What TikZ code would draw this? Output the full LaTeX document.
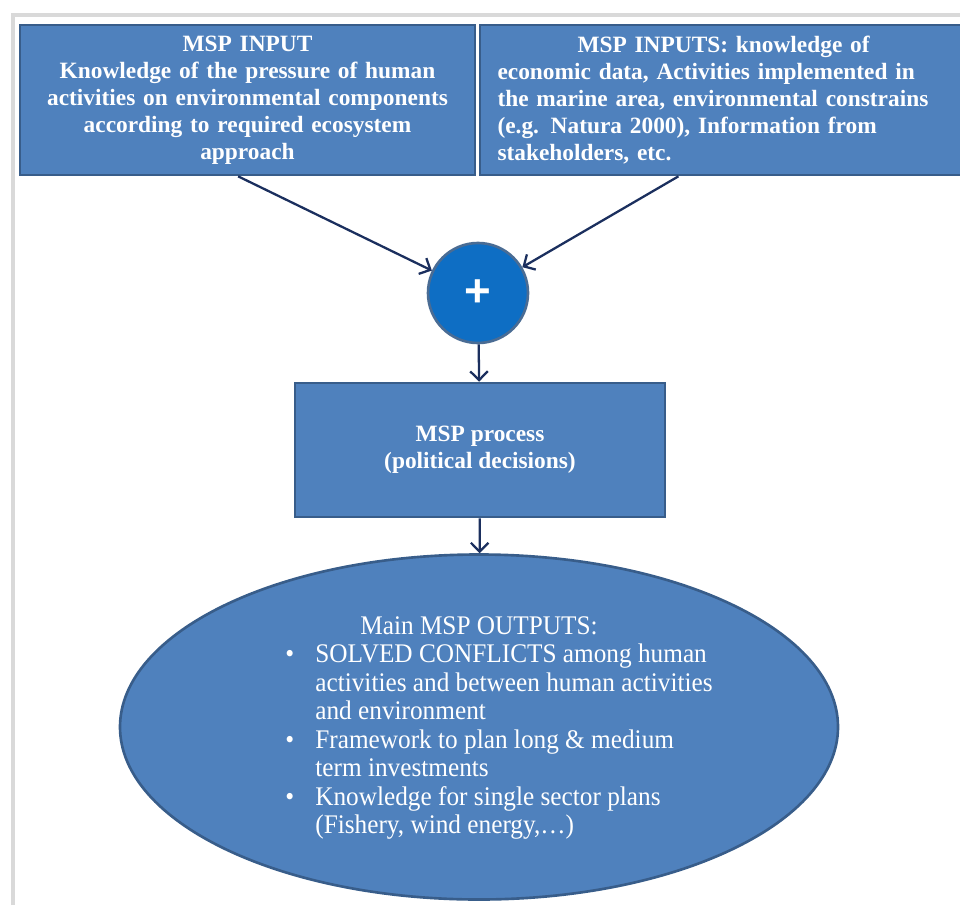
\documentclass[tikz,border=0pt]{standalone}
\usepackage{fontspec}
\setmainfont{Liberation Serif}
\setsansfont{Liberation Sans}
\newfontfamily\narrowserif[FakeStretch=0.94]{Liberation Serif}
\usetikzlibrary{arrows.meta,shapes.geometric,positioning}

\definecolor{boxblue}{HTML}{4F81BD}
\definecolor{boxedge}{HTML}{385D8A}
\definecolor{plusblue}{HTML}{0E6EC4}
\definecolor{plusedge}{HTML}{4A6C94}
\definecolor{arrowblue}{HTML}{1B2F5E}

\newcommand{\itm}{\makebox[0.6cm][l]{\textbullet}}
\newcommand{\cont}{\hspace*{0.6cm}}

\begin{document}
\begin{tikzpicture}[inbox/.style={rectangle, draw=boxedge, fill=boxblue, line width=1.5pt, text=white, inner sep=0pt, font=\bfseries\fontsize{13.3}{15.4}\selectfont}, plusnode/.style={circle, draw=plusedge, fill=plusblue, line width=1.5pt, minimum size=2cm, inner sep=0pt, text=white, font=\sffamily\bfseries\fontsize{26}{26}\selectfont}, outbox/.style={ellipse, draw=boxedge, fill=boxblue, line width=1.5pt, minimum width=14.36cm, minimum height=6.9cm}, link/.style={draw=arrowblue, line width=1.3pt, -{Straight Barb[length=5pt,width=10pt]}}]
            \useasboundingbox (0,0) rectangle (19.2,-18.1);
            % Page edge
            \draw[gray!30, line width=2pt] (0.26,-18.1) |- (19.2,-0.3);
            % Nodes
            \node[inbox, minimum width=9.1cm, minimum height=3cm, text width=9cm, align=center] (leftin) at (4.95,-2.0) {MSP INPUT\\Knowledge of the pressure of human\\activities on environmental components\\according to required ecosystem\\approach};
            \node[inbox, minimum width=9.7cm, minimum height=3cm, text width=9cm, align=left] (rightin) at (14.45,-2.0) {\hspace*{1.6cm}MSP INPUTS: knowledge of\\economic data, Activities implemented in\\the marine area, environmental constrains\\(e.g. Natura 2000), Information from\\stakeholders, etc.};
            \node[plusnode] (plus) at (9.56,-5.86) {+};
            \node[inbox, minimum width=7.4cm, minimum height=2.68cm, align=center] (process) at (9.6,-9.0) {MSP process\\(political decisions)};
            \node[outbox] (outputs) at (9.58,-14.54) {};
            \node[anchor=west, text=white, inner sep=0pt, align=left, font=\narrowserif\fontsize{15.3}{16.2}\selectfont] (outlist) at (5.7,-14.56) {\hspace*{1.5cm}Main MSP OUTPUTS:\\
                \itm SOLVED CONFLICTS among human\\
                \cont activities and between human activities\\
                \cont and environment\\
                \itm Framework to plan long \& medium\\
                \cont term investments\\
                \itm Knowledge for single sector  plans\\
                \cont (Fishery, wind energy,\dots)};
            % Arrows
            \draw[link] (leftin.263) -- (plus);
            \draw[link] (rightin.240) -- (plus);
            \draw[link] (plus) -- (process);
            \draw[link] (process) -- (outputs);
        \end{tikzpicture}
\end{document}
